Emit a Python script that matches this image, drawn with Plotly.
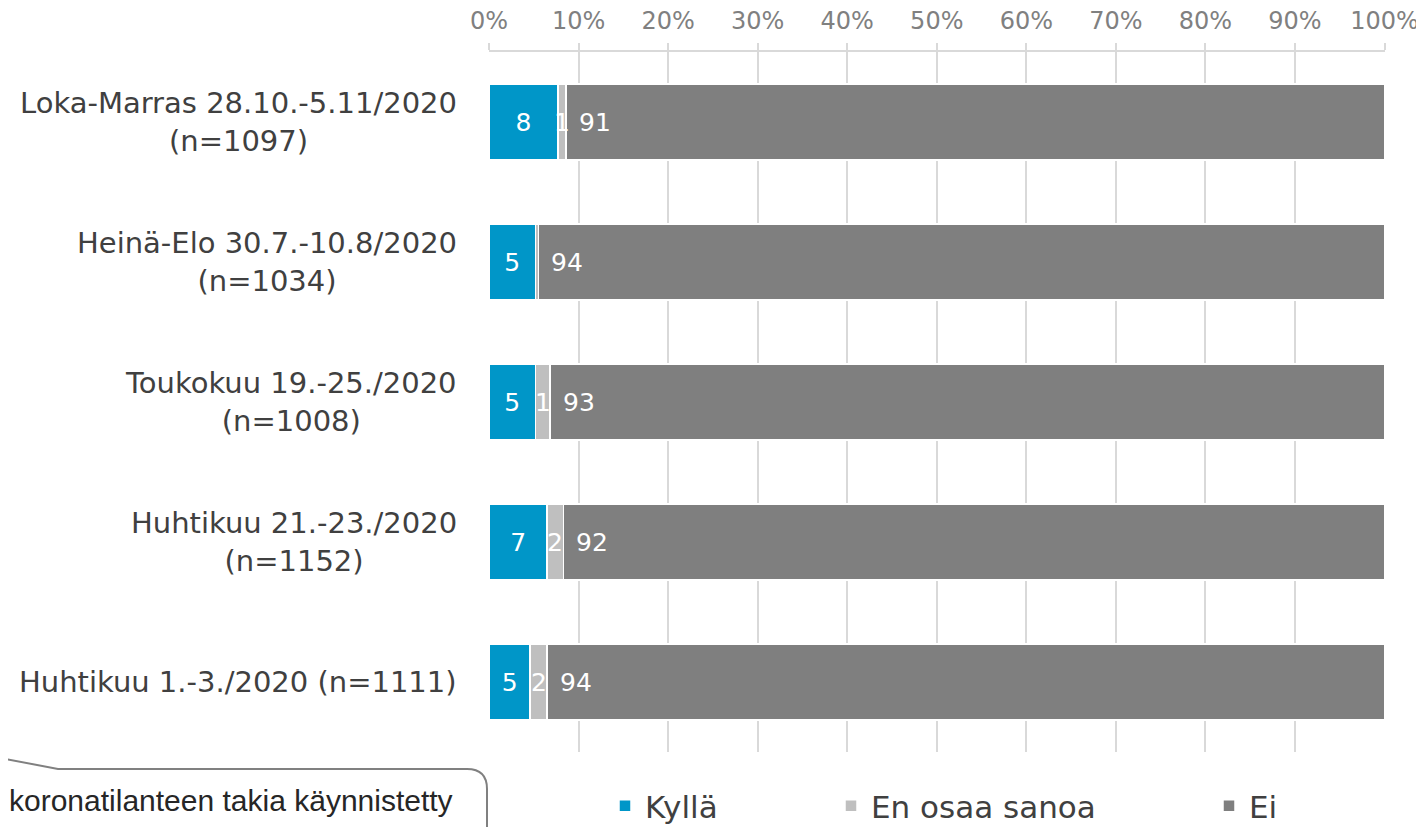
import plotly.graph_objects as go

# ---- data ----
categories = [
    "Loka-Marras 28.10.-5.11/2020<br>(n=1097)",
    "Heinä-Elo 30.7.-10.8/2020<br>(n=1034)",
    "Toukokuu 19.-25./2020<br>(n=1008)",
    "Huhtikuu 21.-23./2020<br>(n=1152)",
    "Huhtikuu 1.-3./2020 (n=1111)",
]
series_names = ["Kyllä", "En osaa sanoa", "Ei"]
kylla = [7.7, 5.2, 5.2, 6.5, 4.6]
eos = [0.9, 0.3, 1.6, 1.8, 1.9]
ei = [91.4, 94.5, 93.2, 91.7, 93.5]
kylla_lbl = ["8", "5", "5", "7", "5"]
eos_lbl = ["1", "", "1", "2", "2"]
ei_lbl = ["91", "94", "93", "92", "94"]
tick_vals = [0, 10, 20, 30, 40, 50, 60, 70, 80, 90, 100]
tick_text = [f"{v}%" for v in tick_vals]
callout_text = "koronatilanteen takia käynnistetty"

# ---- layout constants (page has an 8px body margin) ----
OFF = 8
W, H = 1424, 827
L, R, T, B = 481, 47, 44, 83
PW, PH = W - L - R, H - T - B
FONT = "DejaVu Sans"
colors = ["#0096c8", "#bfbfbf", "#7f7f7f"]


def fx(px):
    """screen x (as seen in the screenshot) -> paper x"""
    return (px - OFF - L) / PW


def fy(py):
    """screen y -> paper y"""
    return (H - B - (py - OFF)) / PH


ypos = list(range(len(categories)))

fig = go.Figure()
fig.add_trace(go.Bar(
    y=ypos, x=kylla, orientation="h", name=series_names[0],
    marker=dict(color=colors[0], line=dict(color="white", width=1.5)),
    text=kylla_lbl, textposition="inside", insidetextanchor="middle",
    textfont=dict(family=FONT, size=25, color="white"),
    legend="legend", hoverinfo="skip",
))
fig.add_trace(go.Bar(
    y=ypos, x=eos, orientation="h", name=series_names[1],
    marker=dict(color=colors[1], line=dict(color="white", width=1.5)),
    textposition="none", legend="legend2", hoverinfo="skip",
))
fig.add_trace(go.Bar(
    y=ypos, x=ei, orientation="h", name=series_names[2],
    marker=dict(color=colors[2], line=dict(color="white", width=1.5)),
    textposition="none", legend="legend3", hoverinfo="skip",
))

annotations = []
for i, cat in enumerate(categories):
    annotations.append(dict(
        x=0, xref="paper", y=i, yref="y", text=cat, showarrow=False,
        xanchor="right", yanchor="middle", align="center", xshift=-30,
        font=dict(family=FONT, size=29, color="#404040"),
    ))
    if eos_lbl[i]:
        annotations.append(dict(
            x=kylla[i] + eos[i] / 2, xref="x", y=i, yref="y", text=eos_lbl[i],
            showarrow=False, xanchor="center", yanchor="middle",
            font=dict(family=FONT, size=25, color="white"),
        ))
    annotations.append(dict(
        x=kylla[i] + eos[i], xref="x", y=i, yref="y", text=ei_lbl[i],
        showarrow=False, xanchor="left", yanchor="middle", xshift=11,
        font=dict(family=FONT, size=25, color="white"),
    ))

annotations.append(dict(
    x=fx(7), xref="paper", y=fy(800), yref="paper", text=callout_text,
    showarrow=False, xanchor="left", yanchor="middle",
    font=dict(family="Liberation Sans", size=30, color="#262626"),
))

path = (f"M {fx(-10)},{fy(756)} L {fx(58)},{fy(769)} L {fx(467)},{fy(769)} "
        f"Q {fx(487)},{fy(769)} {fx(487)},{fy(789)} L {fx(487)},{fy(850)}")

legend_common = dict(
    orientation="h", yanchor="middle", xanchor="left",
    font=dict(family=FONT, size=31, color="#404040"),
    bgcolor="rgba(0,0,0,0)", itemwidth=30,
)

fig.update_layout(
    width=W, height=H,
    margin=dict(l=L, r=R, t=T, b=B, autoexpand=False),
    barmode="stack", bargap=0.457,
    plot_bgcolor="white", paper_bgcolor="white",
    xaxis=dict(
        side="top", range=[0, 100.05], tickvals=tick_vals, ticktext=tick_text,
        showgrid=True, gridcolor="#d9d9d9", gridwidth=1.5, zeroline=False,
        showline=True, linecolor="#d9d9d9", linewidth=1.5,
        ticks="outside", ticklen=7, tickcolor="#d9d9d9", tickwidth=1.5,
        tickfont=dict(family=FONT, size=24, color="#808080"),
        ticklabelstandoff=5, automargin=False,
    ),
    yaxis=dict(
        autorange="reversed", showticklabels=False, showgrid=False,
        zeroline=False, showline=False, ticks="", automargin=False,
    ),
    annotations=annotations,
    shapes=[dict(type="path", path=path, xref="paper", yref="paper",
                 line=dict(color="#808080", width=2))],
    legend=dict(x=fx(605), y=fy(806), **legend_common),
    legend2=dict(x=fx(831), y=fy(806), **legend_common),
    legend3=dict(x=fx(1209), y=fy(806), **legend_common),
    showlegend=True,
)

fig.write_html("out.html")
